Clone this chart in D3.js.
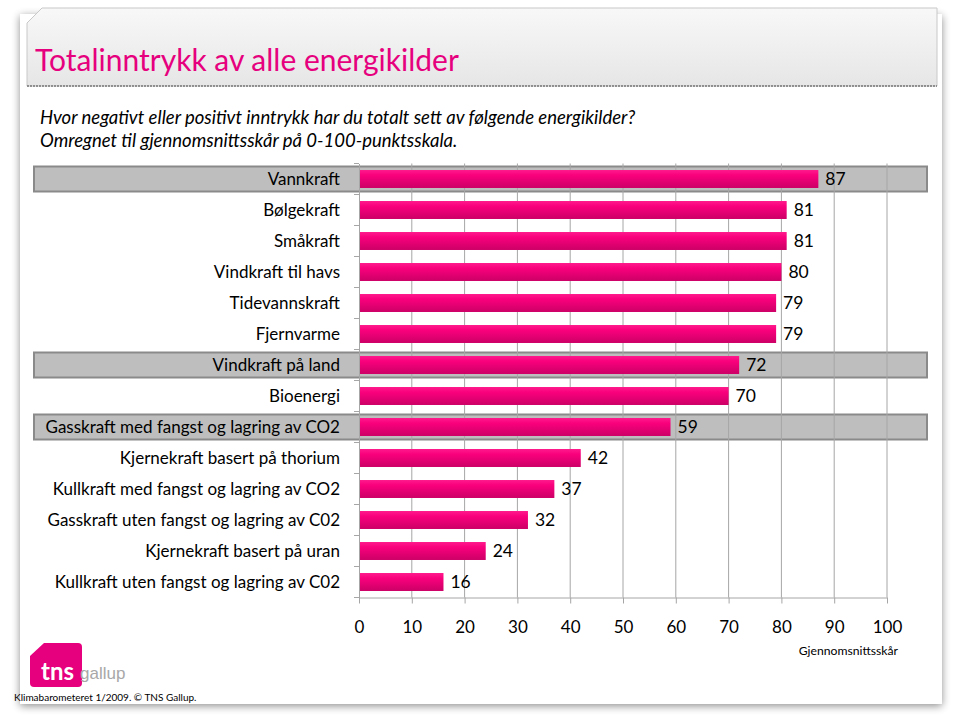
<!DOCTYPE html>
<html><head><meta charset="utf-8">
<script src="https://cdn.jsdelivr.net/npm/d3@7"></script>
<style>body{margin:0;background:#fff;} svg{display:block;}</style>
</head><body>
<svg id="c" width="960" height="720"></svg>
<script>
const categories = ["Vannkraft","Bølgekraft","Småkraft","Vindkraft til havs","Tidevannskraft","Fjernvarme","Vindkraft på land","Bioenergi","Gasskraft med fangst og lagring av CO2","Kjernekraft basert på thorium","Kullkraft med fangst og lagring av CO2","Gasskraft uten fangst og lagring av C02","Kjernekraft basert på uran","Kullkraft uten fangst og lagring av C02"];
const values = [87,81,81,80,79,79,72,70,59,42,37,32,24,16];
const highlighted = ["Vannkraft","Vindkraft på land","Gasskraft med fangst og lagring av CO2"];
const xTicks = [0,10,20,30,40,50,60,70,80,90,100];
const titleText = "Totalinntrykk av alle energikilder";
const subtitleLines = ["Hvor negativt eller positivt inntrykk har du totalt sett av følgende energikilder?","Omregnet til gjennomsnittsskår på 0-100-punktsskala."];
const axisTitle = "Gjennomsnittsskår";
const footer = "Klimabarometeret 1/2009. © TNS Gallup.";

const svg = d3.select("#c");
const defs = svg.append("defs");
const f = "Lato, 'Open Sans', sans-serif";

// shadow filter
const sh = defs.append("filter").attr("id","sh").attr("x","-5%").attr("y","-5%").attr("width","110%").attr("height","110%");
sh.append("feGaussianBlur").attr("in","SourceAlpha").attr("stdDeviation",4);
sh.append("feOffset").attr("dx",0).attr("dy",2).attr("result","b");
sh.append("feComponentTransfer").append("feFuncA").attr("type","linear").attr("slope",0.45);
const mg = sh.append("feMerge"); mg.append("feMergeNode"); mg.append("feMergeNode").attr("in","SourceGraphic");

// slide
svg.append("rect").attr("x",20).attr("y",14).attr("width",922).attr("height",690).attr("fill","#fff").attr("filter","url(#sh)");

// title box
const tg = defs.append("linearGradient").attr("id","tg").attr("x1",0).attr("y1",0).attr("x2",0).attr("y2",1);
tg.append("stop").attr("offset","0").attr("stop-color","#f8f8f8");
tg.append("stop").attr("offset","1").attr("stop-color","#e6e6e6");
svg.append("path").attr("d","M42,8 L937,8 L937,86 L27,86 L27,23 Z").attr("fill","url(#tg)").attr("stroke","#c8c8c8").attr("stroke-width",1);
svg.append("line").attr("x1",27).attr("x2",937).attr("y1",86).attr("y2",86).attr("stroke","#777").attr("stroke-width",1.5).attr("stroke-dasharray","2,1");
svg.append("text").attr("x",35).attr("y",71).attr("font-family",f).attr("font-size",30).attr("fill","#e6007e").text(titleText);

svg.selectAll(".sub").data(subtitleLines).join("text").attr("class","sub")
  .attr("x",40).attr("y",(d,i)=>124+i*23).attr("font-family",f).attr("font-style","italic").attr("font-size",18.5).attr("fill","#000").text(d=>d);

// chart
const x = d3.scaleLinear().domain([0,100]).range([359,887]);
const y = d3.scaleBand().domain(categories).range([163.5,597.5]).paddingInner(0.42).paddingOuter(0.21);
const rowY = d3.scaleBand().domain(categories).range([163.5,597.5]);

// highlight boxes
svg.selectAll(".hl").data(highlighted).join("rect").attr("class","hl")
  .attr("x",34).attr("width",893).attr("y",d=>rowY(d)+rowY.bandwidth()/2-12.5).attr("height",25)
  .attr("fill","#bebebe").attr("stroke","#8a8a8a").attr("stroke-width",2);

// gridlines
svg.selectAll(".grid").data(xTicks.slice(1)).join("line").attr("class","grid")
  .attr("x1",d=>x(d)).attr("x2",d=>x(d)).attr("y1",163.5).attr("y2",597.5).attr("stroke","#a6a6a6").attr("stroke-width",1);

// bars
const bg = defs.append("linearGradient").attr("id","bg").attr("x1",0).attr("y1",0).attr("x2",0).attr("y2",1);
bg.append("stop").attr("offset","0").attr("stop-color","#ff1a8c");
bg.append("stop").attr("offset","0.3").attr("stop-color","#f9007c");
bg.append("stop").attr("offset","1").attr("stop-color","#cc0066");
svg.selectAll(".bar").data(values).join("rect").attr("class","bar")
  .attr("x",x(0)).attr("y",(d,i)=>y(categories[i])).attr("height",y.bandwidth())
  .attr("width",d=>x(d)-x(0)).attr("fill","url(#bg)");

// value labels
svg.selectAll(".val").data(values).join("text").attr("class","val")
  .attr("x",d=>x(d)+7).attr("y",(d,i)=>rowY(categories[i])+rowY.bandwidth()/2+6)
  .attr("font-family",f).attr("font-size",17.5).attr("fill","#000").text(d=>d);

// y axis
const ya = svg.append("g").attr("transform",`translate(${x(0)},0)`)
  .call(d3.axisLeft(rowY).tickSize(0).tickPadding(19).tickSizeOuter(0));
ya.select(".domain").attr("stroke","#a6a6a6");
ya.selectAll("text").attr("font-family",f).attr("font-size",17).attr("fill","#000").attr("dy","0.35em");
// category boundary ticks
svg.selectAll(".ytk").data(d3.range(categories.length+1)).join("line").attr("class","ytk")
  .attr("x1",x(0)-5).attr("x2",x(0)).attr("y1",i=>163.5+i*rowY.step()).attr("y2",i=>163.5+i*rowY.step()).attr("stroke","#a6a6a6");

// x axis
const xa = svg.append("g").attr("transform","translate(0,597.5)")
  .call(d3.axisBottom(x).tickValues(xTicks).tickSize(6).tickPadding(17).tickSizeOuter(0));
xa.select(".domain").attr("stroke","#a6a6a6");
xa.selectAll("line").attr("stroke","#a6a6a6");
xa.selectAll("text").attr("font-family",f).attr("font-size",17).attr("fill","#000");

svg.append("text").attr("x",898).attr("y",655).attr("text-anchor","end").attr("font-family",f).attr("font-size",12.2).attr("fill","#000").text(axisTitle);

// logo
svg.append("path").attr("d","M44,643 L78,643 Q82,643 82,647 L82,683 Q82,687 78,687 L34,687 Q30,687 30,683 L30,656 Z").attr("fill","#e6007e");
svg.append("text").attr("x",41).attr("y",680).attr("font-family",f).attr("font-weight","bold").attr("font-size",24).attr("fill","#fff").text("tns");
svg.append("text").attr("x",80).attr("y",679).attr("font-family","'Liberation Sans Narrow', 'Liberation Sans', sans-serif").attr("font-size",17).attr("fill","#a8a8a8").text("gallup");

svg.append("text").attr("x",14).attr("y",701).attr("font-family",f).attr("font-size",10).attr("fill","#000").text(footer);
</script>
</body></html>
